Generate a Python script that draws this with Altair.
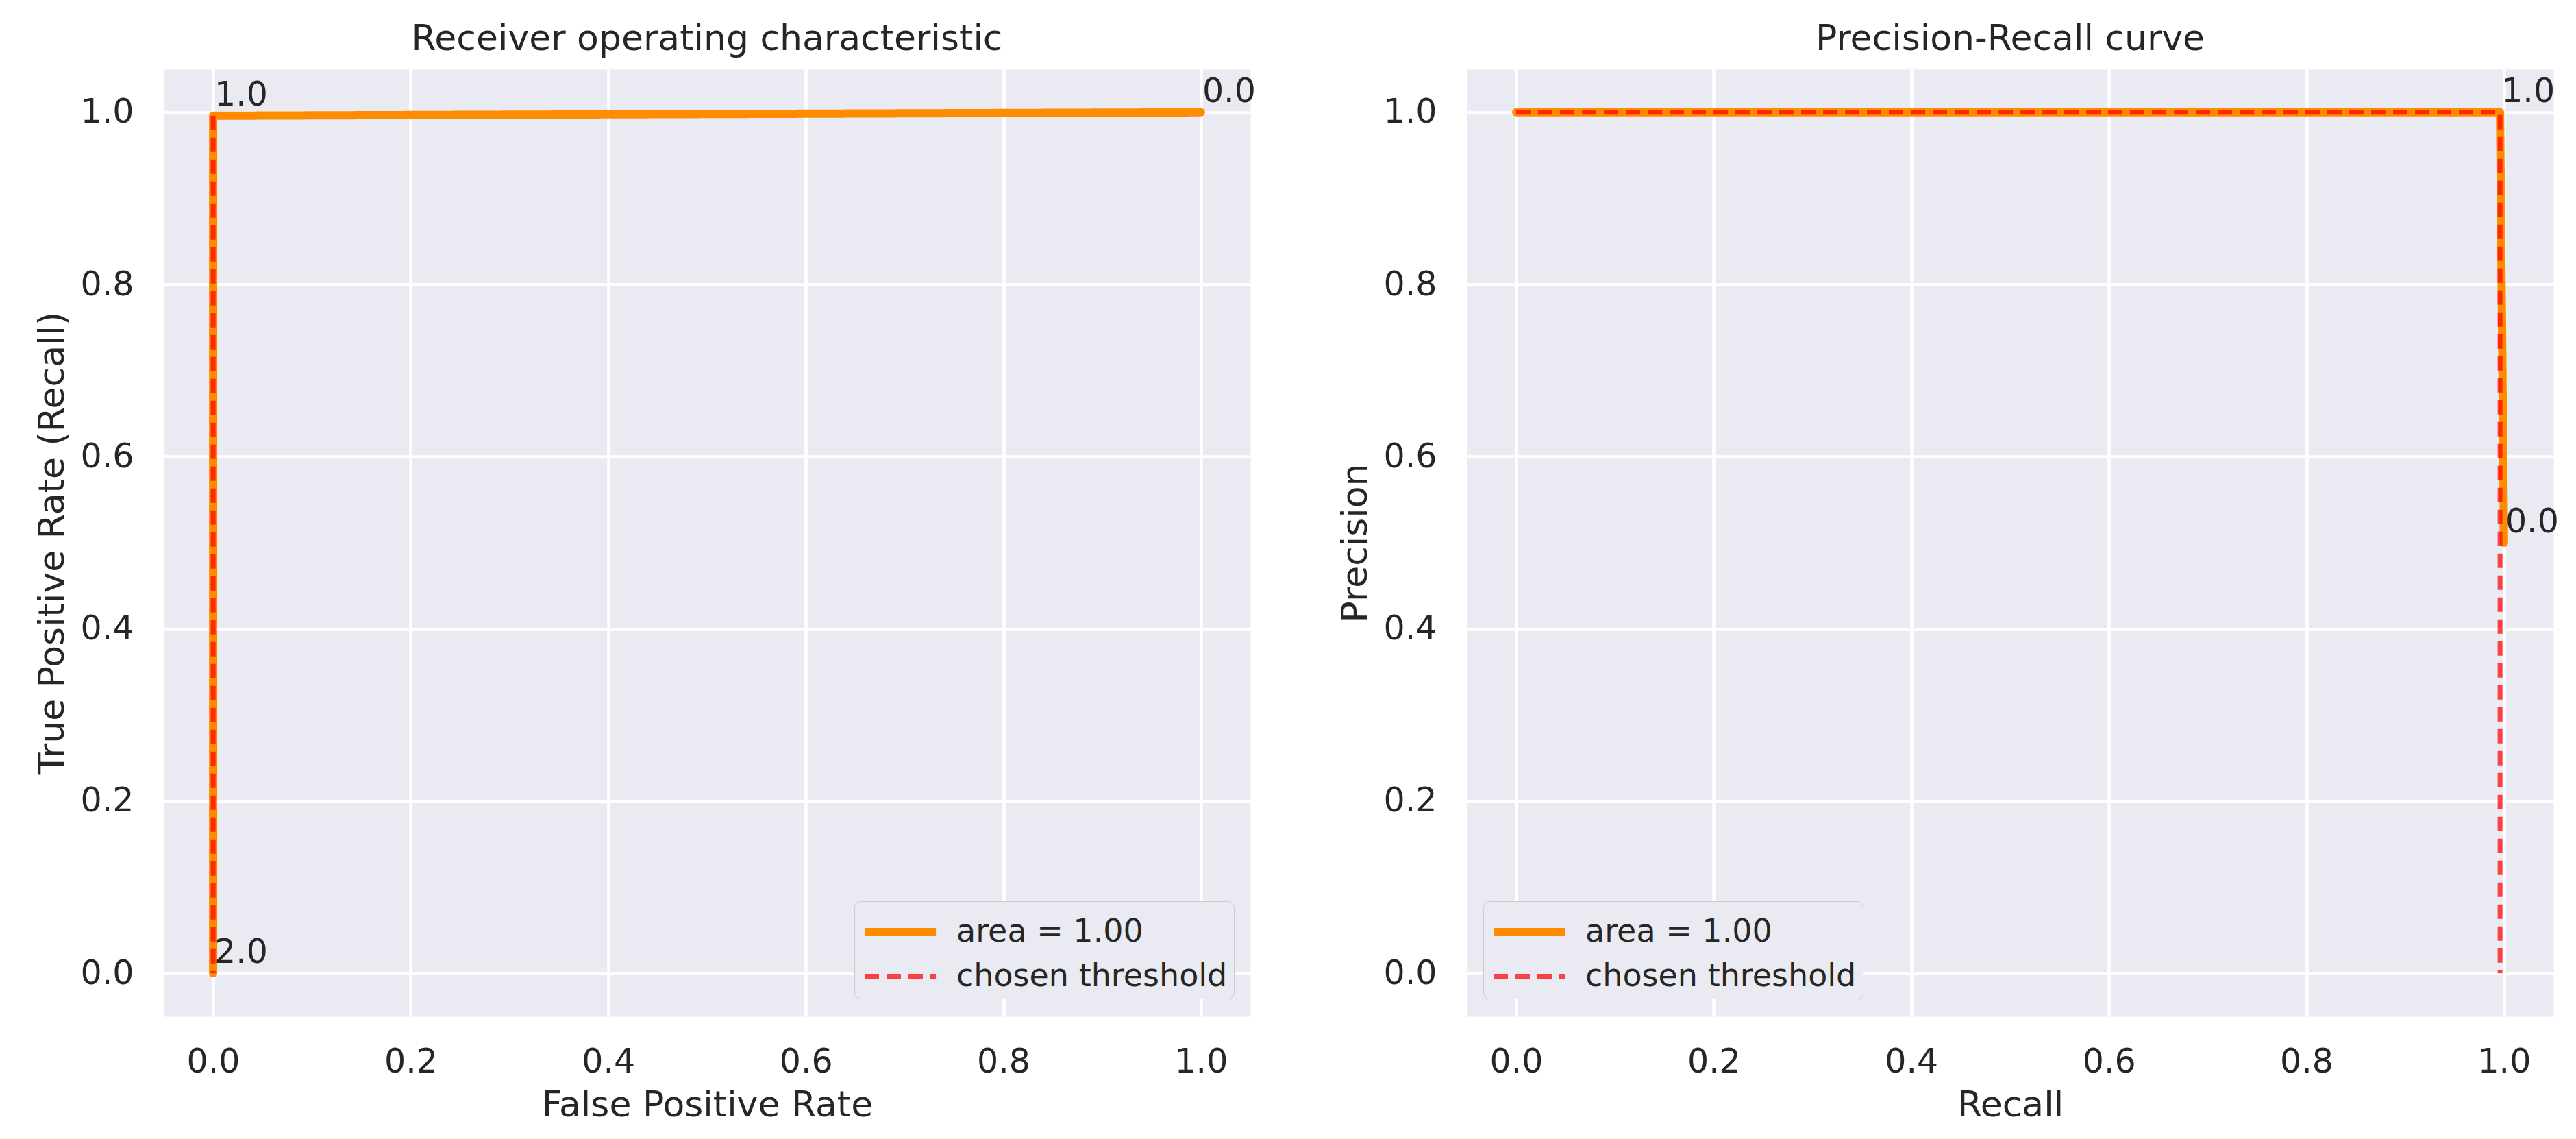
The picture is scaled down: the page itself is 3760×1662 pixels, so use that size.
import altair as alt
import pandas as pd

# ---------------- data ----------------
SERIES = ["area = 1.00", "chosen threshold"]
TICKS = [0.0, 0.2, 0.4, 0.6, 0.8, 1.0]

# ROC curve
roc_fpr = [0.0, 0.0, 1.0]
roc_tpr = [0.0, 0.996, 1.0]
roc_thresholds = ["2.0", "1.0", "0.0"]
roc_chosen_fpr = 0.0
roc_chosen_tpr = 0.996

# Precision-Recall curve
pr_recall = [0.0, 0.996, 1.0]
pr_precision = [1.0, 1.0, 0.5]
pr_ann_recall = [0.996, 1.0]
pr_ann_precision = [1.0, 0.5]
pr_thresholds = ["1.0", "0.0"]
pr_chosen_recall = 0.996
pr_chosen_precision = 1.0

FONT = "DejaVu Sans"
TEXT = "#262626"
BG = "#eaeaf2"

color_scale = alt.Scale(domain=SERIES, range=["#ff8c00", "#ff0000"])
dash_scale = alt.Scale(domain=SERIES, range=[[1, 0], [21, 11]])
width_scale = alt.Scale(domain=SERIES, range=[12, 7])
opac_scale = alt.Scale(domain=SERIES, range=[1.0, 0.72])
dom = alt.Scale(domain=[-0.05, 1.05], nice=False, zero=False)


def make_legend(lx, ly):
    return alt.Legend(
        title=None, orient="none", legendX=lx, legendY=ly,
        symbolType="M-1,0H2.47", symbolSize=3600,
        labelFont=FONT, labelFontSize=46, labelColor=TEXT, labelLimit=1000,
        labelOffset=68, fillColor=BG, strokeColor="#cccccc", cornerRadius=9,
        padding=9, rowPadding=7,
    )


def x_axis(title):
    return alt.Axis(
        title=title, values=TICKS, format=".1f", grid=True, gridColor="white",
        gridWidth=4.5, domain=False, ticks=False, tickSize=0, labelPadding=42,
        labelFont=FONT, labelFontSize=49, labelColor=TEXT, labelFlush=False,
        titleFont=FONT, titleFontSize=52, titleFontWeight="normal",
        titleColor=TEXT, titleY=145, titleBaseline="alphabetic",
    )


def y_axis(title):
    return alt.Axis(
        title=title, values=TICKS, format=".1f", grid=True, gridColor="white",
        gridWidth=4.5, domain=False, ticks=False, tickSize=0, labelPadding=44,
        labelFont=FONT, labelFontSize=49, labelColor=TEXT, labelFlush=False,
        titleFont=FONT, titleFontSize=52, titleFontWeight="normal",
        titleColor=TEXT, titleX=-147, titleBaseline="alphabetic",
    )


def panel(cx, cy, ax, ay, atext, chx, chy, title, xt, yt, lx, ly):
    curve = pd.DataFrame({"x": cx, "y": cy, "o": list(range(len(cx))),
                          "s": SERIES[0]})
    chosen = pd.DataFrame({"x": [0.0, chx, chx], "y": [chy, chy, 0.0],
                           "o": [0, 1, 2], "s": SERIES[1]})
    ann = pd.DataFrame({"x": ax, "y": ay, "t": atext})
    leg = make_legend(lx, ly)
    enc = dict(
        x=alt.X("x:Q", scale=dom, axis=x_axis(xt)),
        y=alt.Y("y:Q", scale=dom, axis=y_axis(yt)),
        order="o:Q",
        color=alt.Color("s:N", scale=color_scale, legend=leg),
        strokeDash=alt.StrokeDash("s:N", scale=dash_scale, legend=leg),
        strokeWidth=alt.StrokeWidth("s:N", scale=width_scale, legend=leg),
        opacity=alt.Opacity("s:N", scale=opac_scale, legend=leg),
    )
    l1 = alt.Chart(curve).mark_line(strokeCap="round", strokeJoin="round").encode(**enc)
    l2 = alt.Chart(chosen).mark_line(strokeCap="butt").encode(**enc)
    tx = alt.Chart(ann).mark_text(
        align="left", baseline="alphabetic", dx=2, dy=-15, font=FONT,
        fontSize=49, color=TEXT,
    ).encode(x=alt.X("x:Q", scale=dom), y=alt.Y("y:Q", scale=dom), text="t:N")
    return alt.layer(l1, l2, tx).properties(
        width=1586, height=1382,
        title=alt.TitleParams(
            text=title, font=FONT, fontSize=52, fontWeight="normal", color=TEXT,
            anchor="middle", frame="group", baseline="alphabetic", offset=-24,
        ),
    )


roc = panel(roc_fpr, roc_tpr, roc_fpr, roc_tpr, roc_thresholds,
            roc_chosen_fpr, roc_chosen_tpr,
            "Receiver operating characteristic", "False Positive Rate",
            "True Positive Rate (Recall)", 1008, 1214)
pr = panel(pr_recall, pr_precision, pr_ann_recall, pr_ann_precision, pr_thresholds,
           pr_chosen_recall, pr_chosen_precision,
           "Precision-Recall curve", "Recall", "Precision", 24, 1214)

chart = (
    alt.hconcat(roc, pr, spacing=316, bounds="flush")
    .resolve_scale(color="independent", strokeDash="independent",
                   strokeWidth="independent", opacity="independent")
    .resolve_legend(color="independent", strokeDash="independent",
                    strokeWidth="independent", opacity="independent")
    .properties(padding={"left": 41, "top": 22, "right": 5, "bottom": 5},
                background="white")
    .configure_view(fill=BG, stroke="transparent")
)

chart.save("out.html", embed_options={"renderer": "svg", "actions": False})
